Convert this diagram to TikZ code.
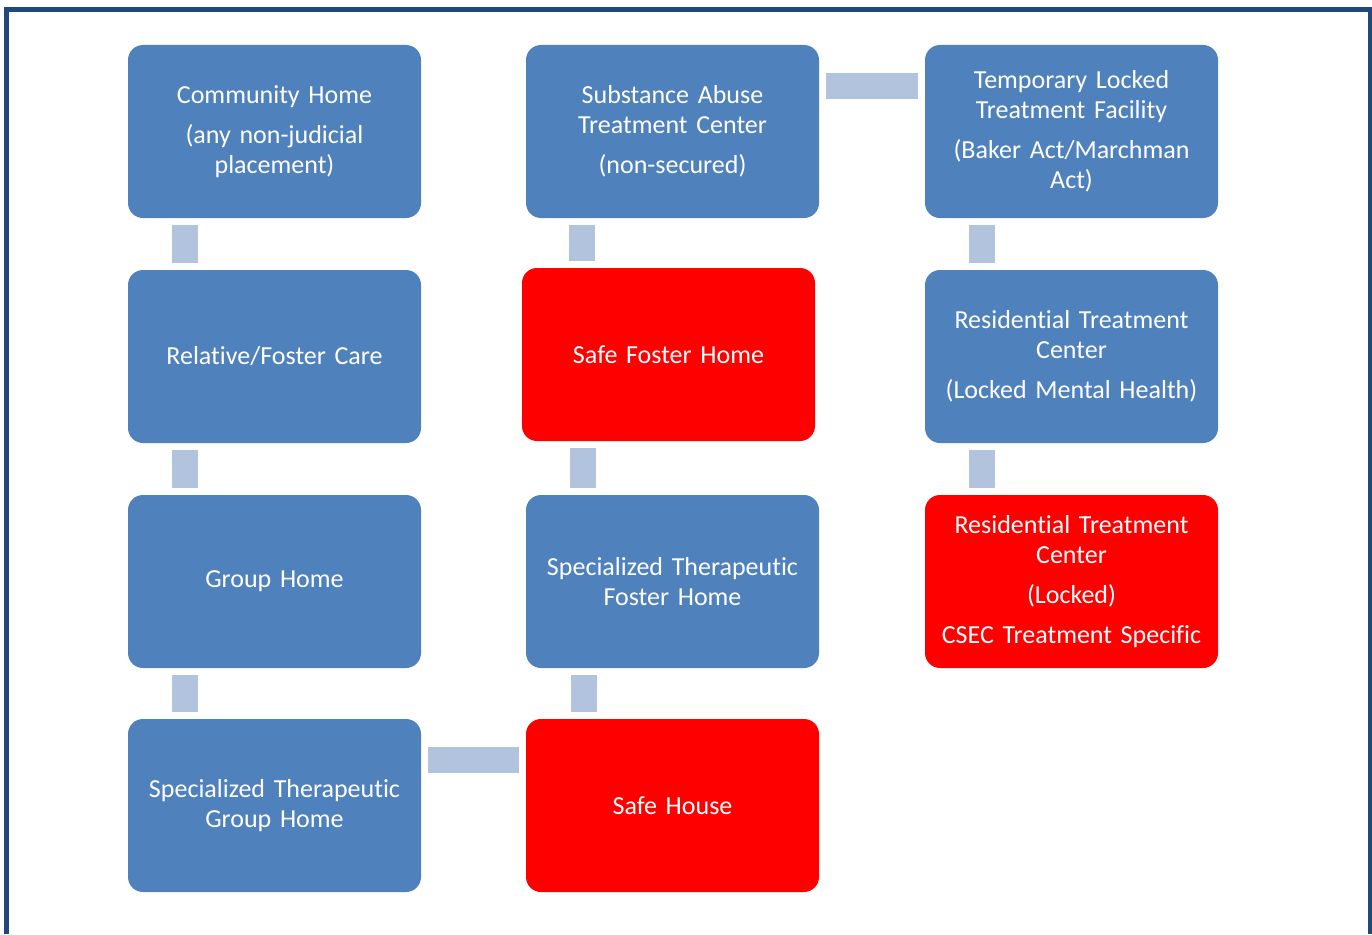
\documentclass[tikz,border=0pt]{standalone}
\usepackage{fontspec}
\setmainfont{Carlito}[Ligatures={TeX,NoCommon}]
\usepackage{tikz}
\usetikzlibrary{positioning}
\definecolor{boxblue}{HTML}{4F81BD}
\definecolor{boxred}{HTML}{FF0000}
\definecolor{linkblue}{HTML}{B2C3DE}
\definecolor{framecol}{HTML}{1F497D}
\tikzset{
    place/.style={rectangle, rounded corners=15pt, fill=boxblue, text=white,
        minimum width=293pt, minimum height=173pt, text width=289pt,
        align=center, inner sep=0pt, font=\fontsize{26}{30}\selectfont},
    danger/.style={place, fill=boxred},
    link/.style={draw=linkblue, line width=26pt, shorten <=7pt, shorten >=7pt}
}

\begin{document}
\begin{tikzpicture}[x=1pt,y=-1pt]
        \useasboundingbox (0,0) rectangle (1372,934);
        \draw[framecol, line width=5pt] (6.5,934) -- (6.5,9.5) -- (1370.5,9.5) -- (1370.5,934);

        % first column
        \node[place] (ch) at (274.5,131.5) {Community Home\\[10pt](any non-judicial\\placement)};
        \node[place] (rf) at (274.5,356.5) {Relative/Foster Care};
        \node[place] (gh) at (274.5,581.5) {Group Home};
        \node[place] (sg) at (274.5,805.5) {Specialized Therapeutic\\Group Home};

        % second column
        \node[place] (sa) at (672.5,131.5) {Substance Abuse\\Treatment Center\\[10pt](non-secured)};
        \node[danger] (sf) at (668.5,354.5) {Safe Foster Home};
        \node[place] (st) at (672.5,581.5) {Specialized Therapeutic\\Foster Home};
        \node[danger] (sh) at (672.5,805.5) {Safe House};

        % third column
        \node[place] (tl) at (1071.5,131.5) {Temporary Locked\\Treatment Facility\\[10pt](Baker Act/Marchman\\Act)};
        \node[place] (rt) at (1071.5,356.5) {Residential Treatment\\Center\\[10pt](Locked Mental Health)};
        \node[danger] (rc) at (1071.5,581.5) {Residential Treatment\\Center\\[10pt](Locked)\\[10pt]CSEC Treatment Specific};

        \draw[link] ([xshift=57pt]ch.south west) -- ([xshift=57pt]rf.north west);
        \draw[link] ([xshift=57pt]rf.south west) -- ([xshift=57pt]gh.north west);
        \draw[link] ([xshift=57pt]gh.south west) -- ([xshift=57pt]sg.north west);
        \draw[link] ([yshift=-41pt]sg.north east) -- ([yshift=-41pt]sh.north west);

        \draw[link] ([xshift=56pt]sa.south west) -- ([xshift=60pt]sf.north west);
        \draw[link] ([xshift=61pt]sf.south west) -- ([xshift=57pt]st.north west);
        \draw[link] ([xshift=58pt]st.south west) -- ([xshift=58pt]sh.north west);
        \draw[link] ([yshift=-41pt]sa.north east) -- ([yshift=-41pt]tl.north west);

        \draw[link] ([xshift=57pt]tl.south west) -- ([xshift=57pt]rt.north west);
        \draw[link] ([xshift=57pt]rt.south west) -- ([xshift=57pt]rc.north west);
\end{tikzpicture}
\end{document}
